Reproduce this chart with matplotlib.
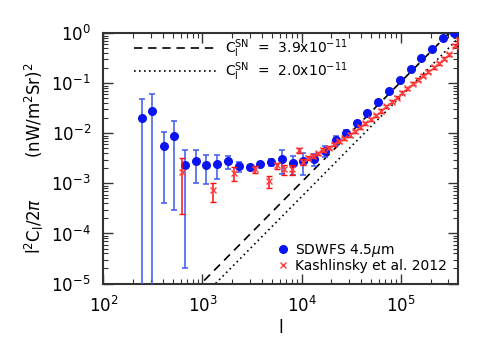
import numpy as np
import matplotlib
matplotlib.use("Agg")
import matplotlib.pyplot as plt
from matplotlib.ticker import LogLocator, NullFormatter

# SDWFS 4.5um points (l, l^2 C_l / 2pi, error)
sdwfs_l = [244, 313, 407, 521, 673, 857, 1097, 1396, 1803, 2349,
           2985, 3828, 4943, 6338, 8110, 10400, 13330, 17060, 22020, 28050,
           35940, 46130, 59140, 76900, 97700, 126200, 161800, 207500, 265000, 343000]
sdwfs_y = [0.0205, 0.0283, 0.0055, 0.0090, 0.00232, 0.00283, 0.00232, 0.00247, 0.00275, 0.00222,
           0.00213, 0.00245, 0.00263, 0.00306, 0.0025, 0.0028, 0.00306, 0.0045, 0.0074, 0.0103,
           0.0163, 0.0258, 0.0429, 0.0711, 0.116, 0.193, 0.325, 0.492, 0.816, 1.0]
sdwfs_err = [0.028, 0.033, 0.0051, 0.0087, 0.0023, 0.0018, 0.00135, 0.00123, 0.00085, 0.0005,
             0.0002, 0.0002, 0.0004, 0.0015, 0.001, 0.0013, 0.0008, 0.0012, 0.0015, 0.0015,
             0.0008, 0.001, 0.0015, 0.002, 0.003, 0.005, 0.008, 0.012, 0.02, 0.02]

# Kashlinsky et al. 2012
kash_l = [628, 1262, 2056, 3404, 4680, 5640, 6580, 8000, 9330, 10300,
          11500, 13000, 14650, 16550, 18700, 21100, 23900, 27000, 30500, 34400,
          38900, 43950, 49650, 56100, 63400, 71600, 80900, 91400, 103300, 116700,
          131800, 148900, 168300, 190100, 214800, 242700, 274200, 309700, 350000, 385000]
kash_y = [0.0017, 0.00073, 0.0016, 0.0019, 0.0011, 0.00228, 0.0019, 0.0019, 0.0046, 0.0027,
          0.0032, 0.0035, 0.0040, 0.0046, 0.0052, 0.0060, 0.0069, 0.0079, 0.0093, 0.011,
          0.0132, 0.0158, 0.019, 0.023, 0.028, 0.035, 0.043, 0.052, 0.065, 0.079,
          0.098, 0.117, 0.141, 0.170, 0.209, 0.251, 0.309, 0.38, 0.56, 0.74]
kash_err = [0.00145, 0.0003, 0.0005, 0.0003, 0.0003, 0.0003, 0.0004, 0.0004, 0.0006, 0.0004,
            0.0003, 0.0003, 0.0003, 0.0004, 0.0004, 0.0005, 0.0005, 0.0006, 0.0007, 0.0008,
            0.001, 0.0012, 0.0014, 0.0017, 0.002, 0.0025, 0.003, 0.0035, 0.0045, 0.0055,
            0.007, 0.008, 0.01, 0.012, 0.015, 0.018, 0.022, 0.027, 0.04, 0.05]

# shot noise levels
c_sn = [3.9e-11, 2.0e-11]
sn_labels = [r"C$_\mathrm{l}^{\mathrm{SN}}$  =  3.9x10$^{-11}$",
             r"C$_\mathrm{l}^{\mathrm{SN}}$  =  2.0x10$^{-11}$"]
sn_styles = [(0, (5, 3.5)), (0, (1, 2))]
unit_fac = 1.71   # matches line placement in the picture

fig = plt.figure(figsize=(4.9, 3.5), dpi=100)
ax = fig.add_axes([0.211, 0.19, 0.724, 0.715])
ax.set_xscale("log")
ax.set_yscale("log")

ll = np.logspace(2, 5.7, 200)
lines = []
for c, lab, ls in zip(c_sn, sn_labels, sn_styles):
    ln, = ax.plot(ll, unit_fac * c * ll**2 / (2 * np.pi), color="black",
                  linestyle=ls, lw=1.2, label=lab)
    lines.append(ln)

eb1 = ax.errorbar(sdwfs_l, sdwfs_y, yerr=sdwfs_err, fmt="o", color="#0a14f0",
                  ecolor="#4a62f5", elinewidth=1.2, capsize=2, capthick=1.2,
                  ms=5.5, mec="#0a14f0", zorder=3, label="SDWFS 4.5$\\mu$m")
eb2 = ax.errorbar(kash_l, kash_y, yerr=kash_err, fmt="x", color="#ff4040",
                  ecolor="#ff1010", elinewidth=1.1, capsize=2, capthick=1.1,
                  ms=5, mew=1.0, zorder=4, label="Kashlinsky et al. 2012")

ax.set_xlim(100, 3.8e5)
ax.set_ylim(1e-5, 1)

ax.xaxis.set_minor_locator(LogLocator(base=10, subs=np.arange(2, 10), numticks=20))
ax.yaxis.set_minor_locator(LogLocator(base=10, subs=np.arange(2, 10), numticks=20))
ax.xaxis.set_minor_formatter(NullFormatter())
ax.yaxis.set_minor_formatter(NullFormatter())
ax.tick_params(which="both", direction="in", top=True, right=True, labelsize=12,
               color="#333333")
ax.tick_params(which="major", length=7, width=1.0, pad=9)
ax.tick_params(which="minor", length=3.5, width=0.8)
for sp in ax.spines.values():
    sp.set_linewidth(1.5)
    sp.set_color("#333333")

ax.set_xlabel("l", fontsize=12, labelpad=2)
ax.set_ylabel("l$^2$C$_\\mathrm{l}$/2$\\pi$        (nW/m$^2$Sr)$^2$", fontsize=12, labelpad=4)

leg1 = ax.legend(handles=lines, loc="upper left", frameon=False, fontsize=10,
                 handlelength=6.0, handletextpad=0.6, borderaxespad=0.0,
                 bbox_to_anchor=(0.07, 1.005), labelspacing=0.0)
ax.add_artist(leg1)
h1 = plt.Line2D([], [], marker="o", ls="none", color="#0a14f0", ms=5.5)
h2 = plt.Line2D([], [], marker="x", ls="none", color="#ff4040", ms=5, mew=1.0)
ax.legend([h1, h2], ["SDWFS 4.5$\\mu$m", "Kashlinsky et al. 2012"], loc="lower right",
          frameon=False, fontsize=10, handlelength=0.8, handletextpad=0.5,
          labelspacing=0.0, borderaxespad=0.0, bbox_to_anchor=(0.985, 0.02))

fig.savefig("out.png", dpi=100)
